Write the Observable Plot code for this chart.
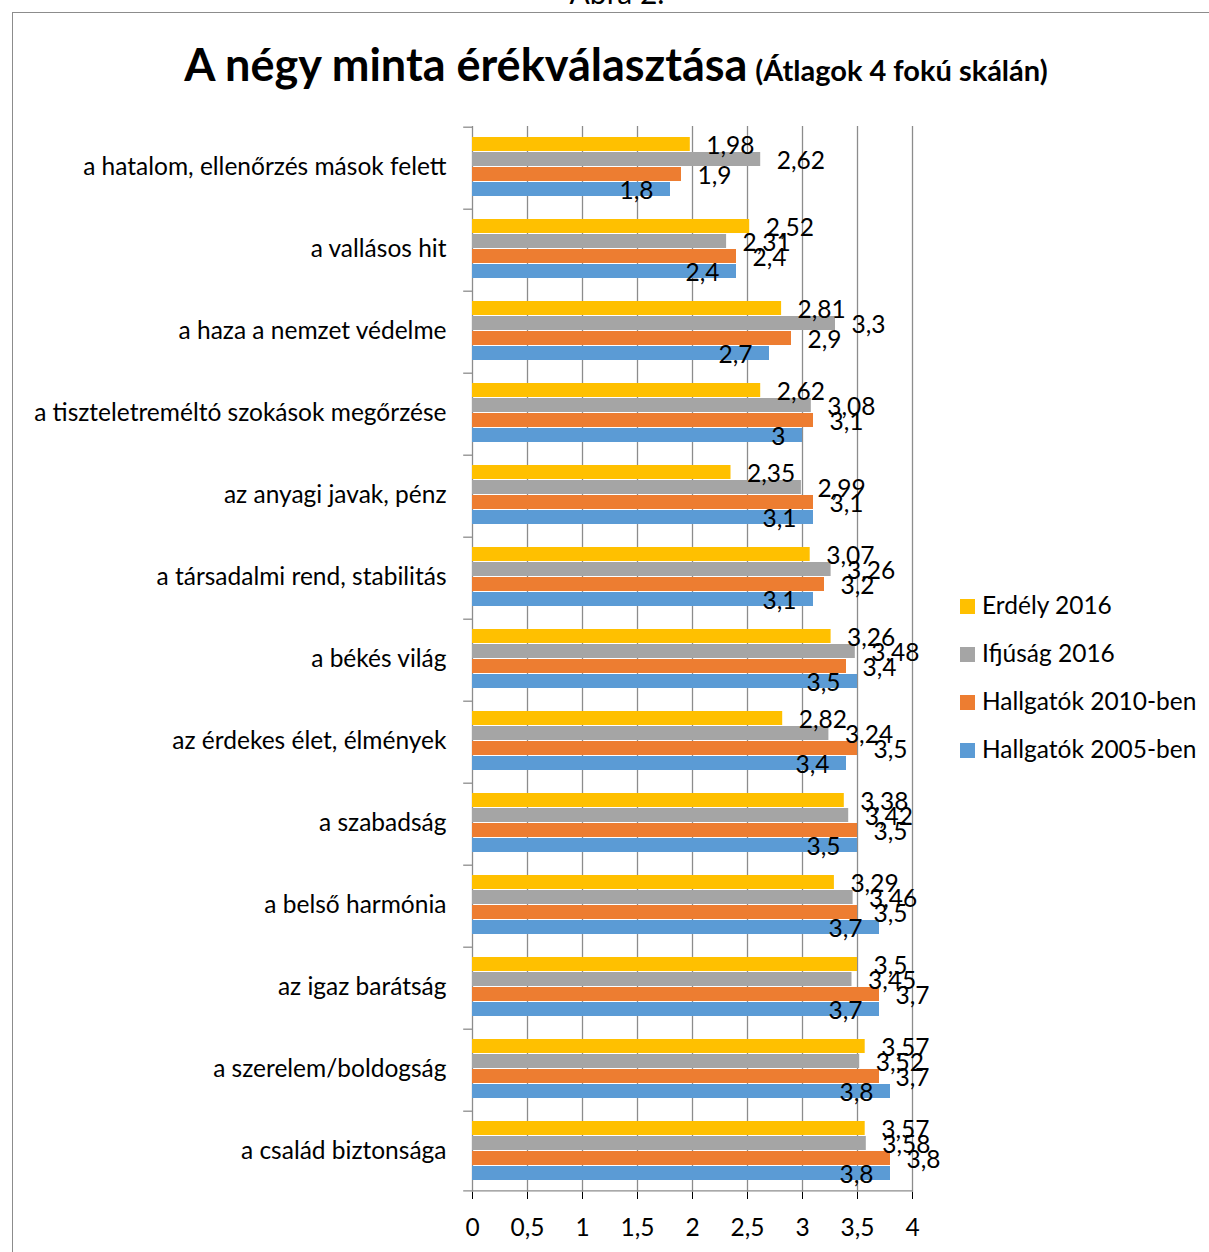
<!DOCTYPE html>
<html>
<head>
<meta charset="utf-8">
<script src="https://cdn.jsdelivr.net/npm/d3@7"></script>
<script src="https://cdn.jsdelivr.net/npm/@observablehq/plot@0.6"></script>
<style>
  html, body { margin: 0; padding: 0; background: #fff; overflow: hidden; }
  #wrap { position: relative; width: 1209px; height: 1252px; overflow: hidden; font-family: Lato, "Open Sans", sans-serif; color: #000; }
  #frame { position: absolute; left: 12px; top: 12px; width: 1400px; height: 1400px; border: 1px solid #8c8c8c; box-sizing: border-box; }
  #abra { position: absolute; left: 0; width: 1234px; top: -26px; text-align: center; font-size: 30px; line-height: 36px; }
  #title { position: absolute; left: 0; width: 1232px; top: 37px; text-align: center; font-weight: bold; white-space: nowrap; }
  #title .main { font-size: 45px; }
  #title .sub { font-size: 29px; margin-left: 4px; }
  #chart { position: absolute; left: 0; top: 0; }
  #legend { position: absolute; left: 960px; top: 589px; font-size: 24.5px; }
  .item { position: absolute; left: 0; white-space: nowrap; height: 32px; line-height: 32px; }
  .sw { display: inline-block; width: 15px; height: 15px; margin-right: 7px; vertical-align: 0px; }
</style>
</head>
<body>
<div id="wrap">
  <div id="frame"></div>
  <div id="abra">Ábra 2.</div>
  <div id="title"><span class="main">A négy minta érékválasztása</span> <span class="sub">(Átlagok 4 fokú skálán)</span></div>
  <div id="chart"></div>
  <div id="legend"></div>
</div>
<script>
const categories = [
  "a hatalom, ellenőrzés mások felett",
  "a vallásos hit",
  "a haza a nemzet védelme",
  "a tiszteletreméltó szokások megőrzése",
  "az anyagi javak, pénz",
  "a társadalmi rend, stabilitás",
  "a békés világ",
  "az érdekes élet, élmények",
  "a szabadság",
  "a belső harmónia",
  "az igaz barátság",
  "a szerelem/boldogság",
  "a család biztonsága"
];
const series = ["Erdély 2016", "Ifjúság 2016", "Hallgatók 2010-ben", "Hallgatók 2005-ben"];
const erdely2016 = [1.98, 2.52, 2.81, 2.62, 2.35, 3.07, 3.26, 2.82, 3.38, 3.29, 3.5, 3.57, 3.57];
const ifjusag2016 = [2.62, 2.31, 3.3, 3.08, 2.99, 3.26, 3.48, 3.24, 3.42, 3.46, 3.45, 3.52, 3.58];
const hallgatok2010 = [1.9, 2.4, 2.9, 3.1, 3.1, 3.2, 3.4, 3.5, 3.5, 3.5, 3.7, 3.7, 3.8];
const hallgatok2005 = [1.8, 2.4, 2.7, 3, 3.1, 3.1, 3.5, 3.4, 3.5, 3.7, 3.7, 3.8, 3.8];
const colors = ["#FFC000", "#A5A5A5", "#ED7D31", "#5B9BD5"];
const xTicks = [0, 0.5, 1, 1.5, 2, 2.5, 3, 3.5, 4];

const seriesValues = [erdely2016, ifjusag2016, hallgatok2010, hallgatok2005];
const data = categories.flatMap((c, i) => series.map((s, j) => ({category: c, series: s, value: seriesValues[j][i]})));
const fmt = v => String(v).replace(".", ",");

const W = 1209, H = 1252, mT = 124, mB = 59, mL = 472, mR = 297;
const pIn = 0.06, pOut = 0.62;
const facetH = (H - mT - mB) / categories.length;
const step = facetH / (series.length - pIn + 2 * pOut);
const bw = step * (1 - pIn);
const start = (facetH - step * (series.length - pIn)) / 2;
const topOff = start + bw / 2;
const axisColor = "#8c8c8c";

const chart = Plot.plot({
  width: W, height: H,
  marginTop: mT, marginBottom: mB, marginLeft: mL, marginRight: mR,
  style: {fontFamily: "Lato, 'Open Sans', sans-serif", fontSize: "24.5px", color: "#000", background: "transparent", overflow: "visible"},
  x: {domain: [0, 4], ticks: xTicks, tickFormat: fmt, tickSize: 7, tickPadding: 19, label: null, grid: false},
  y: {domain: series, paddingInner: pIn, paddingOuter: pOut, axis: null},
  fy: {domain: categories, padding: 0, label: null, tickSize: 0, tickPadding: 26},
  color: {domain: series, range: colors},
  marks: [
    Plot.ruleX(xTicks.slice(1), {stroke: axisColor, strokeWidth: 1.3}),
    Plot.ruleX([0], {stroke: axisColor, strokeWidth: 1.3}),
    Plot.barX(data, {fy: "category", y: "series", x: "value", fill: "series"}),
    Plot.text(data.filter(d => d.series !== series[3]), {fy: "category", y: "series", x: "value", text: d => fmt(d.value), textAnchor: "start", dx: 16, dy: 2, fill: "#000"}),
    Plot.text(data.filter(d => d.series === series[3]), {fy: "category", y: "series", x: "value", text: d => fmt(d.value), textAnchor: "end", dx: -17, dy: 2, fill: "#000"}),
    Plot.ruleY(categories.map(c => ({category: c})), {fy: "category", y: () => series[0], x1: -0.08, x2: 0, dy: -topOff, stroke: axisColor, strokeWidth: 1.3, clip: false}),
    Plot.ruleY([{category: categories[categories.length - 1]}], {fy: "category", y: () => series[series.length - 1], x1: -0.08, x2: 4, dy: topOff, stroke: axisColor, strokeWidth: 1.3, clip: false})
  ]
});
document.getElementById("chart").appendChild(chart);

const legend = document.getElementById("legend");
series.forEach((s, i) => {
  const el = document.createElement("div");
  el.className = "item";
  el.style.top = (i * 48) + "px";
  el.innerHTML = `<span class="sw" style="background:${colors[i]}"></span>${s}`;
  legend.appendChild(el);
});
</script>
</body>
</html>
